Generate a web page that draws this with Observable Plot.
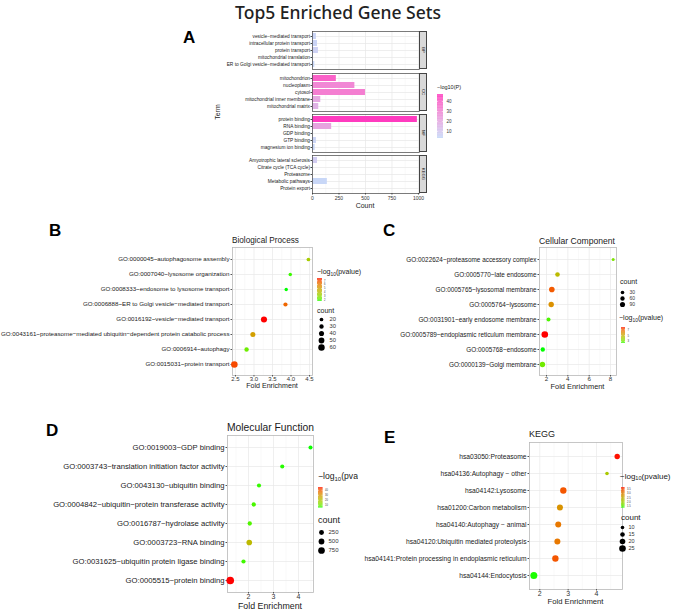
<!DOCTYPE html>
<html><head><meta charset="utf-8">
<script src="https://cdn.jsdelivr.net/npm/d3@7"></script>
<script src="https://cdn.jsdelivr.net/npm/@observablehq/plot@0.6"></script>
<style>
body{margin:0;background:#fff;}
#root{position:relative;width:676px;height:611px;overflow:hidden;background:#fff;font-family:"Liberation Sans",Arial,sans-serif;color:#1a1a1a;}
.abs{position:absolute;white-space:nowrap;line-height:1;}
.pl{position:absolute;}
.pl svg{overflow:visible;background:none;max-width:none;}
</style></head><body><div id="root"></div><script>
// ---------------- Panel A data ----------------
const aFacetNames = ["BP", "CC", "MF", "KEGG"];
const aBPTerms = ["vesicle−mediated transport", "intracellular protein transport", "protein transport", "mitochondrial translation", "ER to Golgi vesicle−mediated transport"];
const aBPCount = [37, 47, 56, 9, 22];
const aBPLogP = [5, 5, 6, 4, 4];
const aCCTerms = ["mitochondrion", "nucleoplasm", "cytosol", "mitochondrial inner membrane", "mitochondrial matrix"];
const aCCCount = [225, 400, 500, 78, 59];
const aCCLogP = [40, 30, 33, 20, 17];
const aMFTerms = ["protein binding", "RNA binding", "GDP binding", "GTP binding", "magnesium ion binding"];
const aMFCount = [990, 181, 6, 37, 25];
const aMFLogP = [47, 22, 4, 5, 4];
const aKEGGTerms = ["Amyotrophic lateral sclerosis", "Citrate cycle (TCA cycle)", "Proteasome", "Metabolic pathways", "Protein export"];
const aKEGGCount = [47, 6, 2, 140, 2];
const aKEGGLogP = [8, 4, 5, 4, 3];
const aXTicks = [0, 250, 500, 750, 1000];
const aLegendTicks = [10, 20, 30, 40];

// ---------------- Panel B (Biological Process) ----------------
const bTerms = ["GO:0000045~autophagosome assembly", "GO:0007040~lysosome organization", "GO:0008333~endosome to lysosome transport", "GO:0006888~ER to Golgi vesicle−mediated transport", "GO:0016192~vesicle−mediated transport", "GO:0043161~proteasome−mediated ubiquitin−dependent protein catabolic process", "GO:0006914~autophagy", "GO:0015031~protein transport"];
const bFold = [4.47, 3.98, 3.87, 3.85, 3.27, 2.97, 2.80, 2.47];
const bLogP = [3.5, 1.8, 1.6, 6.5, 7.6, 5.0, 2.3, 7.0];
const bCount = [20, 17, 16, 28, 55, 40, 30, 62];
const bXTicks = [2.5, 3.0, 3.5, 4.0, 4.5];
const bColorTicks = [2, 3, 4, 5, 6, 7];
const bSizeTicks = [20, 30, 40, 50, 60];

// ---------------- Panel C (Cellular Component) ----------------
const cTerms = ["GO:0022624~proteasome accessory complex", "GO:0005770~late endosome", "GO:0005765~lysosomal membrane", "GO:0005764~lysosome", "GO:0031901~early endosome membrane", "GO:0005789~endoplasmic reticulum membrane", "GO:0005768~endosome", "GO:0000139~Golgi membrane"];
const cFold = [8.25, 3.03, 2.50, 2.44, 2.19, 1.84, 1.65, 1.62];
const cLogP = [3.2, 4.6, 7.0, 5.8, 2.6, 7.8, 2.3, 3.0];
const cCount = [5, 70, 110, 100, 45, 150, 60, 100];
const cXTicks = [2, 4, 6, 8];
const cColorTicks = [3, 5, 7];
const cSizeTicks = [30, 60, 90];

// ---------------- Panel D (Molecular Function) ----------------
const dTerms = ["GO:0019003~GDP binding", "GO:0003743~translation initiation factor activity", "GO:0043130~ubiquitin binding", "GO:0004842~ubiquitin−protein transferase activity", "GO:0016787~hydrolase activity", "GO:0003723~RNA binding", "GO:0031625~ubiquitin protein ligase binding", "GO:0005515~protein binding"];
const dFold = [4.48, 3.35, 2.42, 2.21, 2.05, 2.03, 1.80, 1.27];
const dLogP = [4.5, 5, 5.5, 6.5, 7, 22, 6, 45.6];
const dCount = [20, 35, 40, 70, 80, 450, 60, 1000];
const dXTicks = [2, 3, 4];
const dColorTicks = [10, 20, 30, 40];
const dSizeTicks = [250, 500, 750];

// ---------------- Panel E (KEGG) ----------------
const eTerms = ["hsa03050:Proteasome", "hsa04136:Autophagy − other", "hsa04142:Lysosome", "hsa01200:Carbon metabolism", "hsa04140:Autophagy − animal", "hsa04120:Ubiquitin mediated proteolysis", "hsa04141:Protein processing in endoplasmic reticulum", "hsa04144:Endocytosis"];
const eFold = [4.73, 4.37, 2.83, 2.71, 2.65, 2.62, 2.55, 1.79];
const eLogP = [3.7, 2.1, 3.4, 2.8, 3.1, 3.1, 3.4, 1.3];
const eCount = [19, 10, 24, 22, 22, 22, 24, 27];
const eXTicks = [2, 3, 4];
const eColorTicks = [1.5, 2.0, 2.5, 3.0, 3.5];
const eSizeTicks = [10, 15, 20, 25];

// ---------------- helpers ----------------
const FONT = '"Liberation Sans", Arial, sans-serif';
const root = document.getElementById("root");
const DOT_RANGE = ["#00ff00", "#ff0000"];

function T(x, y, html, size, o = {}) {
  const d = document.createElement("div");
  d.className = "abs";
  d.innerHTML = html;
  d.style.left = x + "px";
  d.style.top = y + "px";
  d.style.fontSize = size + "px";
  d.style.fontFamily = o.family || FONT;
  d.style.fontWeight = o.weight || "normal";
  d.style.color = o.color || "#1a1a1a";
  const tx = o.anchor === "middle" ? "-50%" : o.anchor === "end" ? "-100%" : "0";
  d.style.transform = `translate(${tx},-50%)`;
  if (o.rotate) d.style.transform = `translate(-50%,-50%) rotate(${o.rotate}deg)`;
  (o.parent || root).appendChild(d);
  return d;
}
function place(svg, left, top) {
  const w = document.createElement("div");
  w.className = "pl";
  w.style.left = left + "px";
  w.style.top = top + "px";
  w.appendChild(svg);
  root.appendChild(w);
}
const SUB = "−log<sub style='font-size:0.7em;vertical-align:-0.25em'>10</sub>(pvalue)";

function colorBar(o) {
  const n = 60, [lo, hi] = o.domain;
  const slices = d3.range(n).map(i => ({a: lo + (hi - lo) * i / n, b: lo + (hi - lo) * (i + 1.2) / n, m: lo + (hi - lo) * (i + 0.5) / n}));
  const svg = Plot.plot({
    width: o.width + 24, height: o.height, marginLeft: 0, marginRight: 24, marginTop: 0, marginBottom: 0,
    style: {fontFamily: FONT, background: "none", overflow: "visible", color: "#333"},
    x: {domain: [0, 1], axis: null},
    y: {domain: [lo, hi], range: [o.height, 0], axis: null},
    color: {type: "linear", domain: o.domain, range: o.range, interpolate: "lab"},
    marks: [
      Plot.rect(slices, {x1: 0, x2: 1, y1: "a", y2: d => Math.min(d.b, hi), fill: "m"}),
      Plot.ruleY(o.ticks, {x1: 0, x2: 0.2, stroke: "white", strokeWidth: 0.5}),
      Plot.ruleY(o.ticks, {x1: 0.8, x2: 1, stroke: "white", strokeWidth: 0.5}),
      Plot.text(o.ticks, {x: 1, y: d => d, text: o.fmt || (d => String(d)), dx: o.dx || 2, textAnchor: "start", fontSize: o.fontSize, fill: "#333"})
    ]
  });
  place(svg, o.left, o.top);
}

function sizeLegend(o) {
  const h = o.y1 - o.y0;
  const svg = Plot.plot({
    width: 40, height: h + 10, marginLeft: 0, marginRight: 30, marginTop: 5, marginBottom: 5,
    style: {fontFamily: FONT, background: "none", overflow: "visible"},
    x: {domain: [0, 1], range: [0, 10], axis: null},
    y: {type: "point", domain: o.values, range: [5, 5 + h], padding: 0, axis: null},
    r: {type: "linear", domain: o.rDomain, range: o.rRange},
    marks: [
      Plot.dot(o.values, {x: 0.5, y: d => d, r: d => d, fill: "black"}),
      Plot.text(o.values, {x: 0.5, y: d => d, text: d => String(d), dx: o.dx, textAnchor: "start", fontSize: o.fontSize, fill: "#333"})
    ]
  });
  place(svg, o.cx - 5, o.y0 - 5);
}

function dotPanel(o) {
  const data = o.terms.map((t, i) => ({term: t, fe: o.fold[i], p: o.logp[i], n: o.count[i]}));
  const mt = 2, mb = 14, mr = 2;
  const minor = d3.range(o.xTicks.length - 1).map(i => (o.xTicks[i] + o.xTicks[i + 1]) / 2);
  const step = o.xTicks[1] - o.xTicks[0];
  minor.unshift(o.xTicks[0] - step / 2);
  minor.push(o.xTicks[o.xTicks.length - 1] + step / 2);
  const svg = Plot.plot({
    width: o.fr - o.svgLeft + mr, height: o.fb - o.ft + mt + mb,
    marginLeft: o.fl - o.svgLeft, marginRight: mr, marginTop: mt, marginBottom: mb,
    style: {fontFamily: FONT, background: "none", overflow: "visible", color: "#333"},
    x: {domain: o.xDomain},
    y: {type: "point", domain: o.terms, padding: 0.6},
    color: {type: "linear", domain: o.cDomain, range: DOT_RANGE, interpolate: "lab"},
    r: {type: "linear", domain: o.rDomain, range: o.rRange},
    marks: [
      Plot.gridX(minor.filter(v => v > o.xDomain[0] && v < o.xDomain[1]), {stroke: "#f2f2f2", strokeOpacity: 1, strokeWidth: 0.5}),
      Plot.gridX(o.xTicks, {stroke: "#e8e8e8", strokeOpacity: 1, strokeWidth: 0.7}),
      Plot.gridY(o.terms, {stroke: "#e8e8e8", strokeOpacity: 1, strokeWidth: 0.7}),
      Plot.frame({stroke: "#b8b8b8", strokeWidth: 0.8}),
      Plot.axisX(o.xTicks, {tickFormat: o.xFmt, fontSize: o.tickFont, tickSize: 1.5, tickPadding: 0, label: null, stroke: "#555", fill: "#333"}),
      Plot.axisY(o.terms, {fontSize: o.labelFont, tickSize: 1.5, tickPadding: 1.5, label: null, stroke: "#555", fill: "#1a1a1a"}),
      Plot.dot(data, {x: "fe", y: "term", r: "n", fill: "p"})
    ]
  });
  place(svg, o.svgLeft, o.ft - mt);
  T(o.fl, o.titleY, o.title, o.titleFont, {color: "#1a1a1a"});
  T((o.fl + o.fr) / 2, o.xLabY, "Fold Enrichment", o.xLabFont, {anchor: "middle", color: "#1a1a1a"});
}

// ---------------- Title & letters ----------------
T(338, 13, "Top5 Enriched Gene Sets", 17.5, {anchor: "middle", family: '"Noto Sans", "Liberation Sans", sans-serif', weight: "500", color: "#222"});
T(183, 37, "A", 17, {weight: "bold", color: "#000"});
T(49, 230, "B", 17, {weight: "bold", color: "#000"});
T(383, 230, "C", 17, {weight: "bold", color: "#000"});
T(46, 430, "D", 17, {weight: "bold", color: "#000"});
T(384, 437, "E", 17, {weight: "bold", color: "#000"});

// ---------------- Panel A ----------------
const aFacets = [
  {terms: aBPTerms, n: aBPCount, p: aBPLogP, top: 31},
  {terms: aCCTerms, n: aCCCount, p: aCCLogP, top: 72.5},
  {terms: aMFTerms, n: aMFCount, p: aMFLogP, top: 114},
  {terms: aKEGGTerms, n: aKEGGCount, p: aKEGGLogP, top: 155.3}
];
const A_H = 38, A_SL = 200, A_FL = 312, A_FR = 419;
const A_RANGE = ["#c6daf8", "#ff3bbf"], A_DOMAIN = [3, 47];
aFacets.forEach((f, k) => {
  const last = k === aFacets.length - 1;
  const data = f.terms.map((t, i) => ({term: t, n: f.n[i], p: f.p[i]}));
  const mb = last ? 10 : 0;
  const marks = [
    Plot.gridX([125, 375, 625, 875], {stroke: "#f2f2f2", strokeOpacity: 1, strokeWidth: 0.5}),
    Plot.gridX(aXTicks, {stroke: "#e6e6e6", strokeOpacity: 1, strokeWidth: 0.7}),
    Plot.gridY(f.terms, {stroke: "#e6e6e6", strokeOpacity: 1, strokeWidth: 0.7}),
    Plot.barX(data, {x: "n", y: "term", fill: "p"}),
    Plot.frame({stroke: "#444", strokeWidth: 0.7}),
    Plot.axisY(f.terms, {fontSize: 4.8, tickSize: 1.5, tickPadding: 1, label: null, stroke: "#444", fill: "#222"})
  ];
  if (last) marks.push(Plot.axisX(aXTicks, {tickFormat: d3.format("d"), fontSize: 5, tickSize: 1.5, tickPadding: 1, label: null, stroke: "#444", fill: "#333"}));
  const svg = Plot.plot({
    width: A_FR - A_SL, height: A_H + mb, marginLeft: A_FL - A_SL, marginRight: 0, marginTop: 0, marginBottom: mb,
    style: {fontFamily: FONT, background: "none", overflow: "visible", color: "#333"},
    x: {domain: [0, 1010], axis: null},
    y: {type: "band", domain: f.terms, paddingInner: 0.1, paddingOuter: 0.15, axis: null},
    color: {type: "linear", domain: A_DOMAIN, range: A_RANGE, interpolate: "lab"},
    marks
  });
  place(svg, A_SL, f.top);
  const s = document.createElement("div");
  s.className = "abs";
  Object.assign(s.style, {left: A_FR - 0.5 + "px", top: f.top + "px", width: "8.5px", height: A_H + "px", background: "#d9d9d9", border: "0.7px solid #444", boxSizing: "border-box"});
  root.appendChild(s);
  T(A_FR + 4, f.top + A_H / 2, aFacetNames[k], 4.3, {rotate: 90, color: "#222"});
});
T(217, 112, "Term", 7, {rotate: -90, color: "#222"});
T(365, 205, "Count", 7, {anchor: "middle", color: "#222"});
T(437, 88, "−log10(P)", 5.5, {color: "#222"});
colorBar({left: 437, top: 94, width: 6, height: 44, domain: A_DOMAIN, range: A_RANGE, ticks: aLegendTicks, fontSize: 4.5, dx: 3});

// ---------------- Panel B ----------------
dotPanel({terms: bTerms, fold: bFold, logp: bLogP, count: bCount, svgLeft: 0, fl: 232, fr: 312, ft: 247, fb: 375,
  xDomain: [2.42, 4.58], xTicks: bXTicks, xFmt: d3.format(".1f"), cDomain: [1.6, 7.6], rDomain: [16, 62], rRange: [1.7, 3.3],
  labelFont: 6.2, tickFont: 6, title: "Biological Process", titleY: 241, titleFont: 8.2, xLabY: 386.5, xLabFont: 7.1});
T(317, 273, SUB, 7, {color: "#1a1a1a"});
colorBar({left: 317, top: 278, width: 5, height: 23, domain: [1.6, 7.6], range: DOT_RANGE, ticks: bColorTicks, fontSize: 2.6, dx: 1.5});
T(317, 310, "count", 7, {color: "#1a1a1a"});
sizeLegend({cx: 321, y0: 318.7, y1: 347, values: bSizeTicks, rDomain: [16, 62], rRange: [1.7, 3.3], dx: 8, fontSize: 5.8});

// ---------------- Panel C ----------------
dotPanel({terms: cTerms, fold: cFold, logp: cLogP, count: cCount, svgLeft: 390, fl: 539, fr: 616, ft: 247, fb: 375,
  xDomain: [1.344, 8.56], xTicks: cXTicks, xFmt: d3.format("d"), cDomain: [2.3, 7.8], rDomain: [5, 150], rRange: [1.5, 3.3],
  labelFont: 6.4, tickFont: 6.2, title: "Cellular Component", titleY: 241, titleFont: 8.6, xLabY: 386.5, xLabFont: 7.4});
T(620, 281, "count", 7, {color: "#1a1a1a"});
sizeLegend({cx: 622, y0: 291, y1: 304.5, values: cSizeTicks, rDomain: [5, 150], rRange: [1.5, 3.3], dx: 7, fontSize: 5});
T(619, 319, SUB, 7, {color: "#1a1a1a"});
colorBar({left: 621, top: 327, width: 4, height: 16, domain: [2.3, 7.8], range: DOT_RANGE, ticks: cColorTicks, fontSize: 2.8, dx: 2});

// ---------------- Panel D ----------------
dotPanel({terms: dTerms, fold: dFold, logp: dLogP, count: dCount, svgLeft: 0, fl: 227, fr: 313, ft: 435, fb: 592,
  xDomain: [1.16, 4.6], xTicks: dXTicks, xFmt: d3.format("d"), cDomain: [4.4, 45.6], rDomain: [0, 1000], rRange: [2.0, 3.8],
  labelFont: 7.7, tickFont: 7, title: "Molecular Function", titleY: 428, titleFont: 10.3, xLabY: 605.5, xLabFont: 8.8});
{
  const clip = document.createElement("div");
  clip.className = "abs";
  Object.assign(clip.style, {left: "318px", top: "469px", width: "40px", height: "16px", overflow: "hidden"});
  root.appendChild(clip);
  T(0, 8, SUB, 8.6, {color: "#1a1a1a", parent: clip});
}
colorBar({left: 318, top: 487, width: 4.5, height: 20.5, domain: [4.4, 45.6], range: DOT_RANGE, ticks: dColorTicks, fontSize: 2.6, dx: 2});
T(318, 520, "count", 9, {color: "#1a1a1a"});
sizeLegend({cx: 320.5, y0: 531.7, y1: 550, values: dSizeTicks, rDomain: [0, 1000], rRange: [2.0, 3.8], dx: 7, fontSize: 6});

// ---------------- Panel E ----------------
dotPanel({terms: eTerms, fold: eFold, logp: eLogP, count: eCount, svgLeft: 420, fl: 529, fr: 622, ft: 442, fb: 589,
  xDomain: [1.637, 4.917], xTicks: eXTicks, xFmt: d3.format("d"), cDomain: [1.28, 3.72], rDomain: [5, 30], rRange: [1.3, 3.8],
  labelFont: 6.7, tickFont: 7, title: "KEGG", titleY: 434, titleFont: 9, xLabY: 601.5, xLabFont: 7.7});
T(620, 477, SUB, 8, {color: "#1a1a1a"});
colorBar({left: 621, top: 486.7, width: 3.5, height: 20.6, domain: [1.28, 3.72], range: DOT_RANGE, ticks: eColorTicks, fmt: d3.format(".1f"), fontSize: 2.6, dx: 2});
T(621, 518, "count", 8, {color: "#1a1a1a"});
sizeLegend({cx: 622.3, y0: 527.3, y1: 548.3, values: eSizeTicks, rDomain: [5, 30], rRange: [1.3, 3.8], dx: 6, fontSize: 5.5});
</script></body></html>
